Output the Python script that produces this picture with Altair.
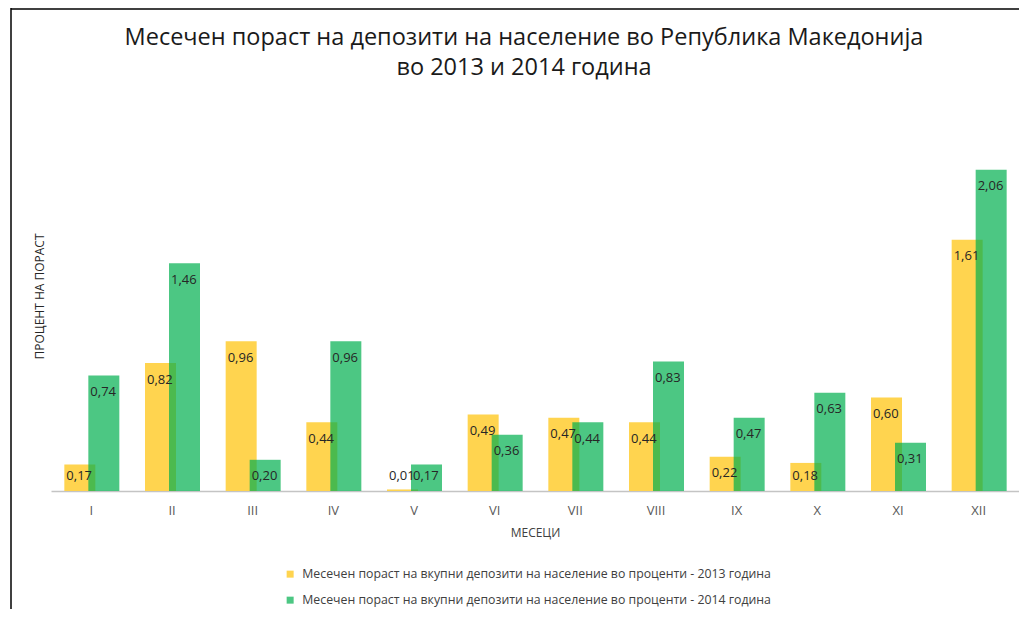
import altair as alt
import pandas as pd

months = ["I", "II", "III", "IV", "V", "VI", "VII", "VIII", "IX", "X", "XI", "XII"]
values_2013 = [0.17, 0.82, 0.96, 0.44, 0.01, 0.49, 0.47, 0.44, 0.22, 0.18, 0.60, 1.61]
values_2014 = [0.74, 1.46, 0.20, 0.96, 0.17, 0.36, 0.44, 0.83, 0.47, 0.63, 0.31, 2.06]
series = [
    "Месечен пораст на вкупни депозити на население во проценти - 2013 година",
    "Месечен пораст на вкупни депозити на население во проценти - 2014 година",
]
title_lines = [
    "Месечен  пораст на депозити на население во Република Македонија",
    "во 2013 и 2014 година",
]

FONT = "Open Sans"

df = pd.DataFrame({
    "month": months * 2,
    "series": [series[0]] * 12 + [series[1]] * 12,
    "value": values_2013 + values_2014,
})
df["label"] = [f"{v:.2f}".replace(".", ",") for v in df["value"]]

W, H = 968, 390

x = alt.X("month:N", sort=months,
          scale=alt.Scale(paddingInner=0, paddingOuter=0),
          axis=alt.Axis(title="МЕСЕЦИ", labelAngle=0, ticks=False, grid=False,
                        labelFont=FONT, labelFontSize=13, labelColor="#595959",
                        labelPadding=13, domainColor="#C4C4C4", domainWidth=1.5,
                        titleFont=FONT, titleFontSize=12, titleFontWeight="normal",
                        titleColor="#404040", titlePadding=10))
y = alt.Y("value:Q", scale=alt.Scale(domain=[0, 2.5], nice=False),
          axis=alt.Axis(title="ПРОЦЕНТ НА ПОРАСТ", labels=False, ticks=False,
                        domain=False, grid=False, titleFont=FONT, titleFontSize=12,
                        titleFontWeight="normal", titleColor="#262626", titlePadding=5))
color = alt.Color("series:N",
                  scale=alt.Scale(domain=series, range=["#FFD44F", "rgba(0,175,79,0.7)"]),
                  legend=alt.Legend(title=None, orient="none", legendX=233, legendY=467,
                                    direction="vertical", symbolType="square",
                                    symbolSize=49, symbolStrokeWidth=0,
                                    labelFont=FONT, labelFontSize=12.3, labelColor="#404040",
                                    labelLimit=700, labelOffset=6, rowPadding=13, padding=0))

base = alt.Chart(df)

bars13 = base.transform_filter(alt.datum.series == series[0]).mark_bar(
    width=31, xOffset=-11.5).encode(x=x, y=y, color=color)
bars14 = base.transform_filter(alt.datum.series == series[1]).mark_bar(
    width=31, xOffset=12.5).encode(x=x, y=y, color=color)

lab = base.transform_calculate(ypos="max(datum.value - 0.106, 0.096)")
text_enc = dict(x=alt.X("month:N", sort=months), y=alt.Y("ypos:Q"), text="label:N")
text13 = lab.transform_filter(alt.datum.series == series[0]).mark_text(
    align="left", baseline="middle", xOffset=-25, font=FONT, fontSize=13,
    color="#262626").encode(**text_enc)
text14 = lab.transform_filter(alt.datum.series == series[1]).mark_text(
    align="left", baseline="middle", xOffset=-1, font=FONT, fontSize=13,
    color="#262626").encode(**text_enc)

frame_df = pd.DataFrame({"a": [0]})
left_line = alt.Chart(frame_df).mark_rule(color="#000000", strokeWidth=1.5).encode(
    x=alt.value(-40), y=alt.value(-93), y2=alt.value(H + 120))
top_line = alt.Chart(frame_df).mark_rule(color="#000000", strokeWidth=1.5).encode(
    x=alt.value(-40), x2=alt.value(W), y=alt.value(-92))
title_text = alt.Chart(frame_df).mark_text(
    align="center", baseline="middle", font=FONT, fontSize=23.5, lineHeight=30,
    color="#1A1A1A").encode(x=alt.value(W / 2 - 11), y=alt.value(-63),
                            text=alt.value(title_lines))

chart = alt.layer(bars13, bars14, text13, text14, left_line, top_line, title_text).properties(
    width=W, height=H,
    autosize=alt.AutoSizeParams(type="none"),
    padding={"left": 43, "top": 93, "right": 0, "bottom": 118},
).configure_view(strokeWidth=0)

chart.save("out.html", embed_options={"renderer": "svg", "actions": False})
